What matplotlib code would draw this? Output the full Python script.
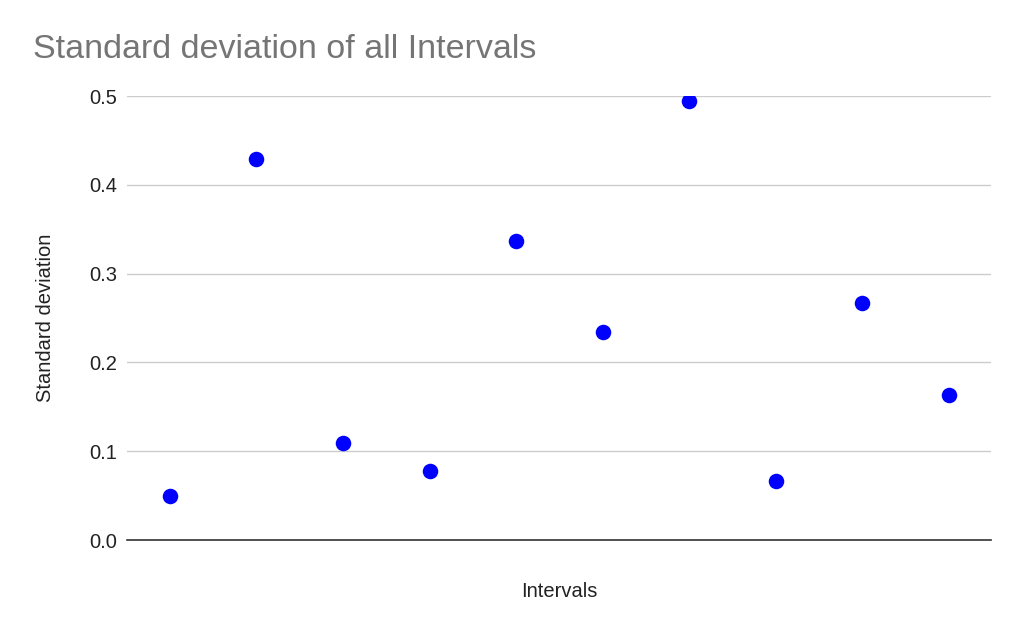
import matplotlib.pyplot as plt

plt.rcParams['font.family'] = ['Liberation Sans', 'DejaVu Sans']

intervals = [1, 2, 3, 4, 5, 6, 7, 8, 9, 10]
std_dev = [0.050, 0.429, 0.109, 0.078, 0.337, 0.234, 0.494, 0.067, 0.267, 0.163]
y_ticks = [0.0, 0.1, 0.2, 0.3, 0.4, 0.5]

fig = plt.figure(figsize=(10.24, 6.33), dpi=100)
ax = fig.add_axes([127 / 1024, 1 - 540 / 633, (991 - 127) / 1024, (540 - 96) / 633])

ax.scatter(intervals, std_dev, s=125, color='#0000ff', zorder=3, linewidths=0)

ax.set_xlim(0.505, 10.485)
ax.set_ylim(0, 0.5)
ax.set_yticks(y_ticks)
ax.set_yticklabels(['%.1f' % v for v in y_ticks])
ax.set_xticks([])
ax.yaxis.grid(True, color='#cccccc', linewidth=1)
ax.set_axisbelow(True)
ax.tick_params(axis='y', length=0, pad=7, labelsize=14.5, colors='#222222')
for side in ['top', 'right', 'left']:
    ax.spines[side].set_visible(False)
ax.spines['bottom'].set_color('#333333')
ax.spines['bottom'].set_linewidth(1.2)
ax.spines['bottom'].set_zorder(4)

ax.set_ylabel('Standard deviation', fontsize=14.5, color='#222222', labelpad=25)
ax.set_xlabel('Intervals', fontsize=14.5, color='#222222', labelpad=30)
fig.text(33 / 1024, 1 - 49 / 633, 'Standard deviation of all Intervals',
         fontsize=24.5, color='#757575', va='center', ha='left')

fig.savefig('out.png', dpi=100)
